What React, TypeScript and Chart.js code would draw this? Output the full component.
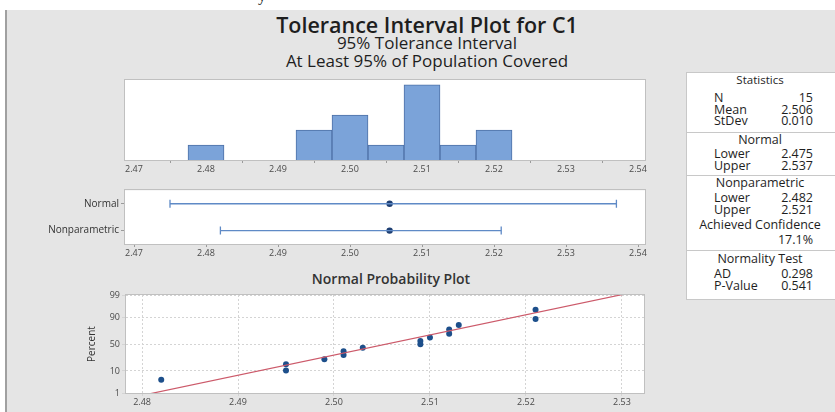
import React, { useEffect, useRef } from "react";
import { Chart, registerables } from "chart.js";

Chart.register(...registerables);

// ---------------- data ----------------
const histBinCenters = [2.48, 2.495, 2.5, 2.505, 2.51, 2.515, 2.52];
const histCounts = [1, 2, 3, 1, 5, 1, 2];
const axisTicks = [2.47, 2.48, 2.49, 2.5, 2.51, 2.52, 2.53, 2.54];

const intervalLabels = ["Normal", "Nonparametric"];
const intervalLower = [2.475, 2.482];
const intervalUpper = [2.537, 2.521];
const intervalCenter = [2.5055, 2.5055];

const sampleValues = [2.482, 2.495, 2.495, 2.499, 2.501, 2.501, 2.503, 2.509, 2.509, 2.51, 2.512, 2.512, 2.513, 2.521, 2.521];
const samplePercents = [4.5, 10.4, 16.9, 23.4, 29.9, 36.4, 42.9, 49.4, 55.8, 62.3, 68.8, 75.3, 81.8, 88.3, 94.8];
const probTicksX = [2.48, 2.49, 2.5, 2.51, 2.52, 2.53];
const probTicksPct = [1, 10, 50, 90, 99];
const fitMean = 2.5055;
const fitStDev = 0.01045;

const statsLabels = ["N", "Mean", "StDev"];
const statsValues = ["15", "2.506", "0.010"];
const limitLabels = ["Lower", "Upper"];
const normalLimits = ["2.475", "2.537"];
const nonparLimits = ["2.482", "2.521"];
const achievedConfidence = "17.1%";
const normalityLabels = ["AD", "P-Value"];
const normalityValues = ["0.298", "0.541"];

// ---------------- helpers ----------------
const FONT = "'Open Sans', 'Noto Sans', sans-serif";
Chart.defaults.font.family = FONT;

function probit(p: number): number {
  const a = [-39.69683028665376, 220.9460984245205, -275.9285104469687, 138.357751867269, -30.66479806614716, 2.506628277459239];
  const b = [-54.47609879822406, 161.5858368580409, -155.6989798598866, 66.80131188771972, -13.28068155922803];
  const c = [-0.007784894002430293, -0.3223964580411365, -2.400758277161838, -2.549732539343734, 4.374664141464968, 2.938163982698783];
  const d = [0.007784695709041462, 0.3224671290700398, 2.445134137142996, 3.754408661907416];
  const pl = 0.02425;
  if (p < pl) {
    const q = Math.sqrt(-2 * Math.log(p));
    return (((((c[0] * q + c[1]) * q + c[2]) * q + c[3]) * q + c[4]) * q + c[5]) / ((((d[0] * q + d[1]) * q + d[2]) * q + d[3]) * q + 1);
  }
  if (p <= 1 - pl) {
    const q = p - 0.5;
    const r = q * q;
    return ((((((a[0] * r + a[1]) * r + a[2]) * r + a[3]) * r + a[4]) * r + a[5]) * q) / (((((b[0] * r + b[1]) * r + b[2]) * r + b[3]) * r + b[4]) * r + 1);
  }
  const q = Math.sqrt(-2 * Math.log(1 - p));
  return -(((((c[0] * q + c[1]) * q + c[2]) * q + c[3]) * q + c[4]) * q + c[5]) / ((((d[0] * q + d[1]) * q + d[2]) * q + d[3]) * q + 1);
}

const framePlugin = {
  id: "frame",
  beforeDraw(chart: any) {
    const { ctx, chartArea: a } = chart;
    ctx.save();
    ctx.fillStyle = "#ffffff";
    ctx.fillRect(a.left, a.top, a.right - a.left, a.bottom - a.top);
    ctx.restore();
  },
  afterDraw(chart: any) {
    const { ctx, chartArea: a } = chart;
    ctx.save();
    ctx.strokeStyle = "#c0c0c0";
    ctx.lineWidth = 1;
    ctx.strokeRect(Math.round(a.left) - 0.5, Math.round(a.top) - 0.5, Math.round(a.right - a.left) + 1, Math.round(a.bottom - a.top) + 1);
    ctx.restore();
  },
};

const fixX = (h: number) => (s: any) => {
  s.height = h;
  s.paddingLeft = 0;
  s.paddingRight = 0;
};
const fixY = (w: number) => (s: any) => {
  s.width = w;
  s.paddingTop = 0;
  s.paddingBottom = 0;
};

const tickFont = { family: FONT, size: 9 };
const tickColor = "#4a4a4a";

const sharedX = () => ({
  type: "linear" as const,
  min: 2.46875,
  max: 2.54097,
  offset: false,
  afterBuildTicks: (s: any) => {
    s.ticks = axisTicks.map((v) => ({ value: v }));
  },
  grid: { drawOnChartArea: false, tickLength: 3, color: "#9a9a9a" },
  border: { display: false },
  ticks: {
    font: tickFont,
    color: tickColor,
    padding: 1,
    maxRotation: 0,
    autoSkip: false,
    callback: (v: any) => Number(v).toFixed(2),
  },
});

const baseOptions = {
  responsive: false,
  animation: false as const,
  events: [] as any[],
  plugins: { legend: { display: false }, tooltip: { enabled: false } },
};

function makeHistogram(): any {
  return {
    type: "bar",
    data: {
      datasets: [
        {
          data: histBinCenters.map((x, i) => ({ x, y: histCounts[i] })),
          backgroundColor: "#7ba3d9",
          borderColor: "#4d70a6",
          borderWidth: 1,
          barPercentage: 1,
          categoryPercentage: 1,
        },
      ],
    },
    options: {
      ...baseOptions,
      layout: { padding: { left: 20, right: 20, top: 4, bottom: 0 } },
      scales: {
        x: { ...sharedX(), afterFit: fixX(20) },
        y: { display: false, min: 0, max: 5.33 },
      },
    },
    plugins: [framePlugin],
  };
}

function makeIntervals(): any {
  const rowY = [1, 0];
  const lineColor = "#5f8ac6";
  const lineSets = intervalLabels.map((_, i) => ({
    data: [
      { x: intervalLower[i], y: rowY[i] },
      { x: intervalUpper[i], y: rowY[i] },
    ],
    showLine: true,
    borderColor: lineColor,
    borderWidth: 1.3,
    pointStyle: "line",
    rotation: 90,
    pointRadius: 4,
    pointBorderColor: lineColor,
    pointBorderWidth: 1.3,
  }));
  return {
    type: "scatter",
    data: {
      datasets: [
        ...lineSets,
        {
          data: intervalCenter.map((x, i) => ({ x, y: rowY[i] })),
          pointRadius: 3.2,
          pointBackgroundColor: "#1e3f73",
          pointBorderColor: "#1e3f73",
          pointBorderWidth: 0,
        },
      ],
    },
    options: {
      ...baseOptions,
      layout: { padding: { left: 0, right: 20, top: 4, bottom: 0 } },
      scales: {
        x: { ...sharedX(), afterFit: fixX(16) },
        y: {
          type: "linear",
          min: -0.5,
          max: 1.5,
          afterBuildTicks: (s: any) => {
            s.ticks = [{ value: 1 }, { value: 0 }];
          },
          afterFit: fixY(105),
          grid: { drawOnChartArea: false, tickLength: 4, color: "#9a9a9a" },
          border: { display: false },
          ticks: {
            font: { family: FONT, size: 10 },
            color: "#333333",
            padding: 2,
            callback: (v: any) => (Number(v) === 1 ? intervalLabels[0] : intervalLabels[1]),
          },
        },
      },
    },
    plugins: [framePlugin],
  };
}

function makeProbability(): any {
  const zLo = probit(0.01);
  const zHi = probit(0.99);
  const zFitLo = -3;
  const zFitHi = 3;
  return {
    type: "scatter",
    data: {
      datasets: [
        {
          data: [
            { x: fitMean + zFitLo * fitStDev, y: zFitLo },
            { x: fitMean + zFitHi * fitStDev, y: zFitHi },
          ],
          showLine: true,
          borderColor: "#cc5a6a",
          borderWidth: 1.2,
          pointRadius: 0,
        },
        {
          data: sampleValues.map((x, i) => ({ x, y: probit(samplePercents[i] / 100) })),
          pointRadius: 3,
          pointBackgroundColor: "#1d4f8b",
          pointBorderColor: "#1d4f8b",
          pointBorderWidth: 0,
        },
      ],
    },
    options: {
      ...baseOptions,
      layout: { padding: { left: 6, right: 21, top: 7, bottom: 0 } },
      scales: {
        x: {
          type: "linear",
          min: 2.47833,
          max: 2.5323,
          afterBuildTicks: (s: any) => {
            s.ticks = probTicksX.map((v) => ({ value: v }));
          },
          afterFit: fixX(19),
          grid: { color: "#d4d4d4", tickLength: 3 },
          border: { display: false, dash: [2, 2] },
          ticks: {
            font: tickFont,
            color: tickColor,
            padding: 1,
            maxRotation: 0,
            autoSkip: false,
            callback: (v: any) => Number(v).toFixed(2),
          },
        },
        y: {
          type: "linear",
          min: zLo,
          max: zHi,
          afterBuildTicks: (s: any) => {
            s.ticks = probTicksPct.map((p) => ({ value: probit(p / 100) }));
          },
          afterFit: fixY(40),
          grid: { color: "#d4d4d4", tickLength: 4 },
          border: { display: false, dash: [2, 2] },
          title: { display: true, text: "Percent", font: { family: FONT, size: 10 }, color: "#333333", padding: 0 },
          ticks: {
            font: tickFont,
            color: tickColor,
            padding: 2,
            callback: (_v: any, i: number) => String(probTicksPct[i]),
          },
        },
      },
    },
    plugins: [framePlugin],
  };
}

function ChartBox(props: { make: () => any; left: number; top: number; width: number; height: number }) {
  const ref = useRef<HTMLCanvasElement>(null);
  useEffect(() => {
    const chart = new Chart(ref.current as HTMLCanvasElement, props.make());
    return () => chart.destroy();
  }, []);
  return (
    <canvas
      ref={ref}
      width={props.width}
      height={props.height}
      style={{ position: "absolute", left: props.left, top: props.top, width: props.width, height: props.height }}
    />
  );
}

function T(props: { x: number; y: number; align?: "left" | "center" | "right"; size: number; weight?: number; color?: string; children: React.ReactNode }) {
  const align = props.align || "center";
  const tx = align === "center" ? "-50%" : align === "right" ? "-100%" : "0";
  return (
    <div
      style={{
        position: "absolute",
        left: props.x,
        top: props.y,
        transform: `translate(${tx}, -50%)`,
        fontFamily: FONT,
        fontSize: props.size,
        fontWeight: props.weight || 400,
        color: props.color || "#1e1e1e",
        whiteSpace: "nowrap",
        lineHeight: 1.1,
      }}
    >
      {props.children}
    </div>
  );
}

export default function App() {
  const sx = 760;
  const lx = 714;
  const vx = 813;
  const fs = 12.5;
  const sep = (y: number) => (
    <div style={{ position: "absolute", left: 686, top: y, width: 160, height: 1, background: "#c8c8c8" }} />
  );
  return (
    <div style={{ position: "fixed", left: 0, top: 0, width: 835, height: 412, overflow: "hidden", background: "#ffffff" }}>
      <div style={{ position: "absolute", left: 258, top: -13, fontFamily: "serif", fontSize: 16, color: "#222" }}>y</div>
      <div
        style={{
          position: "absolute",
          left: 5,
          top: 10,
          width: 835,
          height: 412,
          background: "#e5e5e5",
          borderLeft: "2px solid #a0a0a0",
        }}
      />
      <T x={427} y={25} size={21.5} weight={600}>Tolerance Interval Plot for C1</T>
      <T x={427} y={43} size={17}>95% Tolerance Interval</T>
      <T x={427} y={61} size={17}>At Least 95% of Population Covered</T>

      <ChartBox make={makeHistogram} left={105} top={76} width={560} height={104} />
      <ChartBox make={makeIntervals} left={20} top={185} width={645} height={75} />
      <T x={391} y={279} size={14} weight={600} color="#333333">Normal Probability Plot</T>
      <ChartBox make={makeProbability} left={80} top={288} width={585} height={124} />

      <div style={{ position: "absolute", left: 686, top: 72, width: 160, height: 226, background: "#ffffff", border: "1px solid #c8c8c8" }} />
      <T x={sx} y={80} size={11.5}>Statistics</T>
      {statsLabels.map((l, i) => (
        <React.Fragment key={l}>
          <T x={lx} y={98 + i * 11.5} align="left" size={fs}>{l}</T>
          <T x={vx} y={98 + i * 11.5} align="right" size={fs}>{statsValues[i]}</T>
        </React.Fragment>
      ))}
      {sep(132)}
      <T x={sx} y={140} size={fs}>Normal</T>
      {limitLabels.map((l, i) => (
        <React.Fragment key={"n" + l}>
          <T x={lx} y={154 + i * 11.5} align="left" size={fs}>{l}</T>
          <T x={vx} y={154 + i * 11.5} align="right" size={fs}>{normalLimits[i]}</T>
        </React.Fragment>
      ))}
      {sep(175)}
      <T x={sx} y={183} size={fs}>Nonparametric</T>
      {limitLabels.map((l, i) => (
        <React.Fragment key={"p" + l}>
          <T x={lx} y={198 + i * 11.5} align="left" size={fs}>{l}</T>
          <T x={vx} y={198 + i * 11.5} align="right" size={fs}>{nonparLimits[i]}</T>
        </React.Fragment>
      ))}
      <T x={sx} y={225} size={fs}>Achieved Confidence</T>
      <T x={vx} y={240} align="right" size={fs}>{achievedConfidence}</T>
      {sep(250)}
      <T x={sx} y={259} size={fs}>Normality Test</T>
      {normalityLabels.map((l, i) => (
        <React.Fragment key={"t" + l}>
          <T x={lx} y={274 + i * 11.5} align="left" size={fs}>{l}</T>
          <T x={vx} y={274 + i * 11.5} align="right" size={fs}>{normalityValues[i]}</T>
        </React.Fragment>
      ))}
    </div>
  );
}
